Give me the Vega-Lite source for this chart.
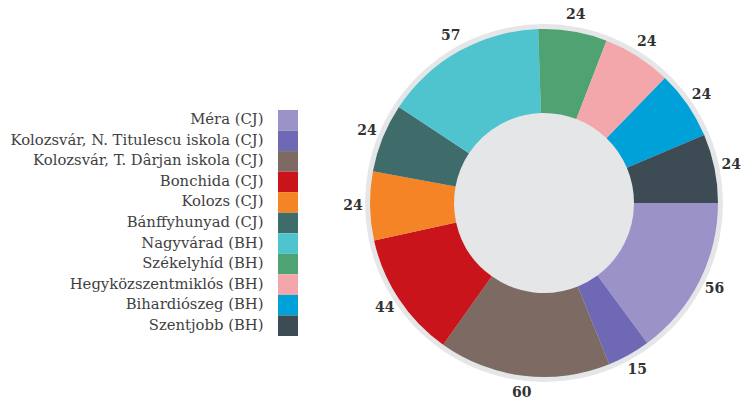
{
  "$schema": "https://vega.github.io/schema/vega-lite/v6.json",
  "padding": {"left": 0, "top": 5, "right": 0, "bottom": 0},
  "background": "white",
  "config": {"view": {"stroke": null}},
  "datasets": {
    "rows": [
      {"name": "Méra (CJ)", "value": 56, "idx": 1},
      {"name": "Kolozsvár, N. Titulescu iskola (CJ)", "value": 15, "idx": 2},
      {"name": "Kolozsvár, T. Dârjan iskola (CJ)", "value": 60, "idx": 3},
      {"name": "Bonchida (CJ)", "value": 44, "idx": 4},
      {"name": "Kolozs (CJ)", "value": 24, "idx": 5},
      {"name": "Bánffyhunyad (CJ)", "value": 24, "idx": 6},
      {"name": "Nagyvárad (BH)", "value": 57, "idx": 7},
      {"name": "Székelyhíd (BH)", "value": 24, "idx": 8},
      {"name": "Hegyközszentmiklós (BH)", "value": 24, "idx": 9},
      {"name": "Bihardiószeg (BH)", "value": 24, "idx": 10},
      {"name": "Szentjobb (BH)", "value": 24, "idx": 11}
    ],
    "ring": [{"part": "all", "v": 1}]
  },
  "hconcat": [
    {
      "width": 20,
      "height": 396,
      "data": {"name": "rows"},
      "mark": {"type": "rect"},
      "encoding": {
        "y": {
          "field": "name",
          "type": "nominal",
          "sort": {"field": "idx"},
          "scale": {"paddingInner": 0, "paddingOuter": 0, "range": [105, 331]},
          "axis": {
            "title": null,
            "ticks": false,
            "tickSize": 0,
            "domain": false,
            "labelPadding": 15,
            "labelFont": "DejaVu Serif",
            "labelFontSize": 14.8,
            "labelColor": "#3f3f3f",
            "labelLimit": 400,
            "minExtent": 278,
            "maxExtent": 278
          }
        },
        "color": {
          "field": "name",
          "type": "nominal",
          "scale": {
            "domain": ["Méra (CJ)", "Kolozsvár, N. Titulescu iskola (CJ)", "Kolozsvár, T. Dârjan iskola (CJ)", "Bonchida (CJ)", "Kolozs (CJ)", "Bánffyhunyad (CJ)", "Nagyvárad (BH)", "Székelyhíd (BH)", "Hegyközszentmiklós (BH)", "Bihardiószeg (BH)", "Szentjobb (BH)"],
            "range": ["#9b93c8", "#6f69b5", "#7d6b63", "#c9141b", "#f58426", "#3f6b6b", "#4fc4cf", "#4fa272", "#f4a7ab", "#00a1d9", "#3d4b54"]
          },
          "legend": null
        }
      }
    },
    {
      "width": 404,
      "height": 396,
      "layer": [
        {
          "data": {"name": "ring"},
          "mark": {"type": "arc", "radius": 179, "fill": "#e5e6e8"},
          "encoding": {
            "theta": {"field": "v", "type": "quantitative", "scale": {"range": [1.5708, 7.854]}}
          }
        },
        {
          "data": {"name": "rows"},
          "layer": [
            {
              "mark": {"type": "arc", "radius": 174, "radius2": 90},
              "encoding": {
                "theta": {"field": "value", "type": "quantitative", "stack": true, "scale": {"range": [1.5708, 7.854]}},
                "order": {"field": "idx", "type": "quantitative"},
                "color": {"field": "name", "type": "nominal", "legend": null}
              }
            },
            {
              "mark": {"type": "text", "radius": 191, "font": "DejaVu Serif", "fontWeight": "bold", "fontSize": 14, "fill": "#333333"},
              "encoding": {
                "theta": {"field": "value", "type": "quantitative", "stack": true, "scale": {"range": [1.5708, 7.854]}},
                "order": {"field": "idx", "type": "quantitative"},
                "text": {"field": "value", "type": "quantitative"}
              }
            }
          ]
        }
      ],
      "resolve": {"scale": {"theta": "independent"}}
    }
  ],
  "spacing": 44
}
